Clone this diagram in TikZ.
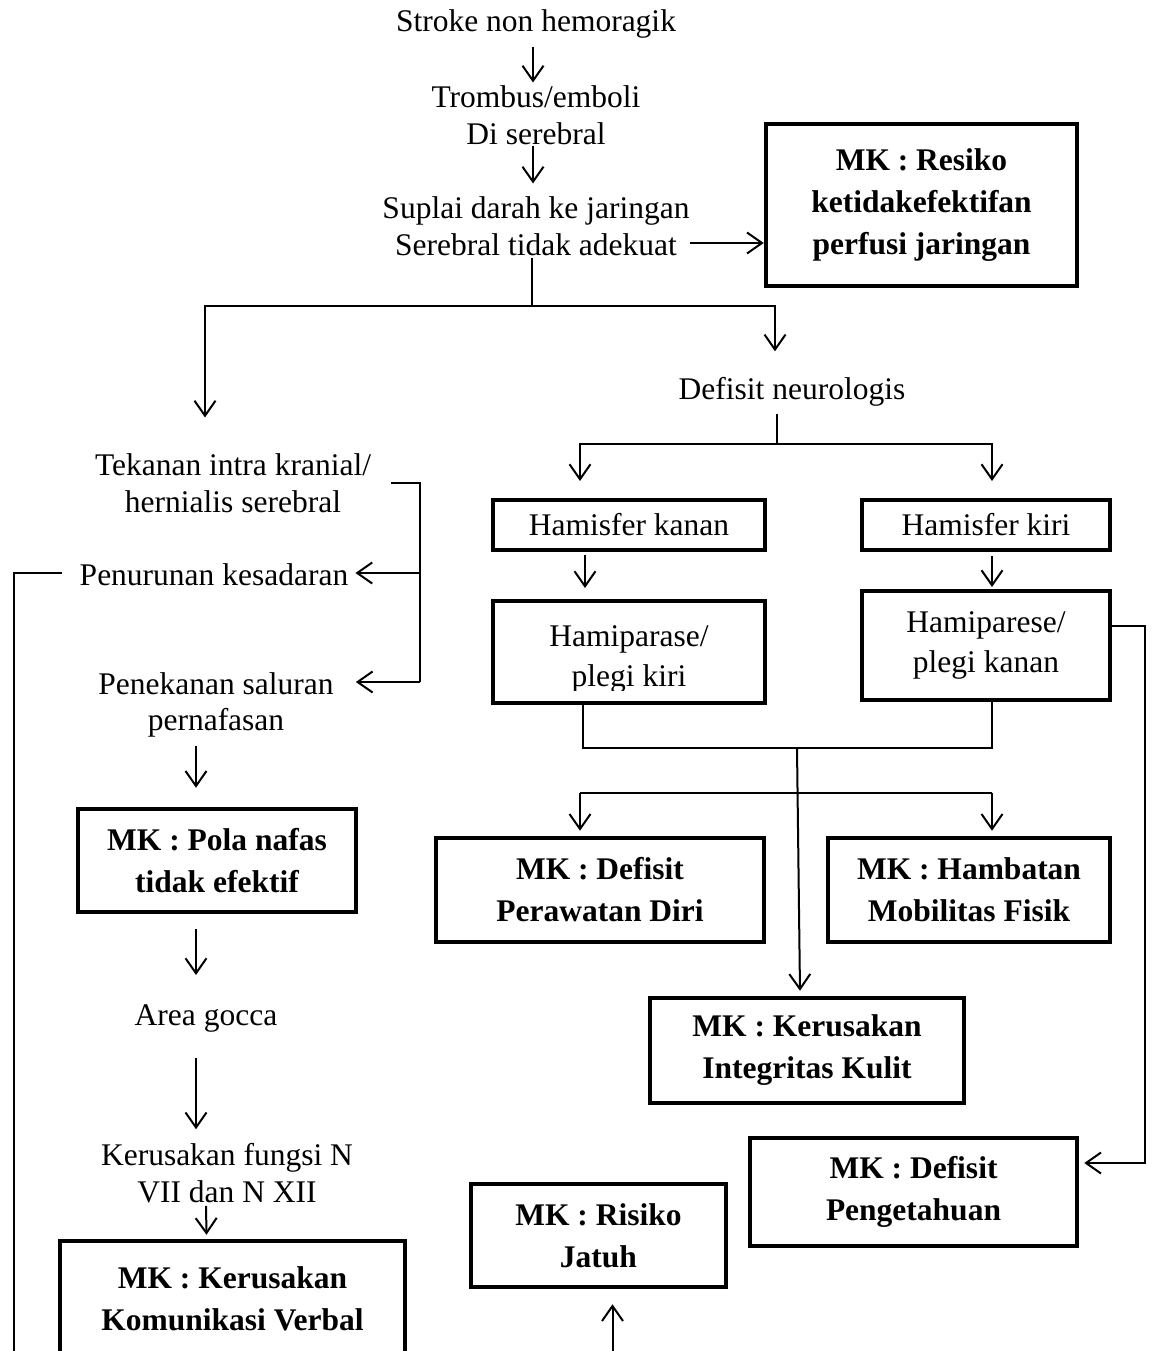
\documentclass[tikz,border=0pt]{standalone}
\usepackage{fontspec}
\setmainfont{Liberation Serif}
\usetikzlibrary{arrows.meta,calc}
\begin{document}
\begin{tikzpicture}[x=1pt,y=-1pt,
  ln/.style={line width=2pt},
  arr/.style={line width=2pt,-{Straight Barb[length=15pt,width=21pt,line width=2pt]}},
  txt/.style={font=\fontsize{31.5}{36.5}\selectfont, align=center, inner sep=0pt},
  mk/.style={draw, line width=4.5pt, font=\bfseries\fontsize{31.5}{42}\selectfont, align=center, inner sep=0pt},
  hb/.style={draw, line width=4pt, font=\fontsize{31.5}{40}\selectfont, align=center, inner sep=0pt},
]
\useasboundingbox (0,0) rectangle (1152,1351);
\clip (0,0) rectangle (1152,1351);

% top chain
\node[txt] (stroke) at (536,24) {Stroke non hemoragik};
\node[txt] (tromb) at (536,115) {Trombus/emboli\\Di serebral};
\node[txt] (suplai) at (536,226) {Suplai darah ke jaringan\\Serebral tidak adekuat};
\node[mk, minimum width=311pt, minimum height=162pt] (resiko) at (921.5,205) {MK : Resiko\\ketidakefektifan\\perfusi jaringan};

% right side
\node[txt] (defisit) at (792,392) {Defisit neurologis};
\node[hb, minimum width=272pt, minimum height=50pt] (hkanan) at (629,525) {Hamisfer kanan};
\node[hb, minimum width=248pt, minimum height=50pt] (hkiri) at (986,525) {Hamisfer kiri};
\node[hb, minimum width=272pt, minimum height=102pt] (hpkiri) at (629,652) {};
\begin{scope}
  \clip (hpkiri.north west) rectangle ([yshift=15pt]hpkiri.south east);
  \node[txt, font=\fontsize{31.5}{40}\selectfont] (hpkiritxt) at (629,659) {Hamiparase/\\plegi kiri};
\end{scope}
\node[hb, minimum width=248pt, minimum height=109pt] (hpkanan) at (986,645.5) {Hamiparese/\\plegi kanan};
\node[mk, minimum width=328pt, minimum height=104pt] (perawatan) at (600,890) {MK : Defisit\\Perawatan Diri};
\node[mk, minimum width=282pt, minimum height=104pt] (mobilitas) at (969,890) {MK : Hambatan\\Mobilitas Fisik};
\node[mk, minimum width=314pt, minimum height=105pt] (kulit) at (807,1050.5) {MK : Kerusakan\\Integritas Kulit};
\node[mk, minimum width=327pt, minimum height=108pt] (pengetahuan) at (913.5,1192) {MK : Defisit\\Pengetahuan};
\node[mk, minimum width=255pt, minimum height=103pt] (jatuh) at (598.5,1235.5) {MK : Risiko\\Jatuh};

% left side
\node[txt] (tekanan) at (233,483) {Tekanan intra kranial/\\hernialis serebral};
\node[txt] (penurunan) at (214,575) {Penurunan kesadaran};
\node[txt] (penekanan) at (216,705) {Penekanan saluran\\pernafasan};
\node[mk, minimum width=278pt, minimum height=103pt] (pola) at (217,860.5) {MK : Pola nafas\\tidak efektif};
\node[txt] (area) at (206,1018) {Area gocca};
\node[txt] (fungsi) at (227,1173) {Kerusakan fungsi N\\VII dan N XII};
\node[mk, minimum width=345pt, minimum height=116pt] (verbal) at (232.5,1299) {MK : Kerusakan\\Komunikasi Verbal};

% connectors: top chain
\draw[arr] ($(stroke.south)+(-3,8)$) -- ($(tromb.north)+(-3,-3)$);
\draw[arr] ($(tromb.south)+(-3,1)$) -- ($(suplai.north)+(-3,-13)$);
\draw[arr] ($(suplai.east)+(0,17)$) coordinate (s1) -- (s1 -| resiko.west);

% branch from suplai
\coordinate (b1) at ($(suplai.south)+(-4,50)$);
\draw[ln] ($(suplai.south)+(-4,2)$) -- (b1);
\draw[arr] (b1) -| ($(tekanan.north)+(-28,-36)$);
\draw[arr] (b1) -| ($(defisit.north)+(-17,-26)$);

% branch from defisit
\coordinate (b2) at ($(defisit.south)+(-15,37)$);
\draw[ln] ($(defisit.south)+(-15,7)$) -- (b2);
\draw[arr] (b2) -| ($(hkanan.north)+(-49,-17)$);
\draw[arr] (b2) -| ($(hkiri.north)+(6,-17)$);

\draw[arr] ($(hkanan.south)+(-44,3)$) -- ($(hpkiri.north)+(-44,-11)$);
\draw[arr] ($(hkiri.south)+(6,4)$) -- ($(hpkanan.north)+(6,-2)$);

% merge of hemiparesis boxes
\draw[ln] ($(hpkiri.south)+(-46,0)$) |- ($(hpkanan.south)+(6,46)$) -- ($(hpkanan.south)+(6,0)$);
\draw[arr] ($(hpkiri.south)+(168,43)$) -- ($(kulit.north)+(-7,-5)$);
\draw[arr] ($(perawatan.north)+(-20,-43)$) coordinate (c1) -- ($(perawatan.north)+(-20,-5)$);
\draw[arr] ($(mobilitas.north)+(23,-43)$) coordinate (c2) -- ($(mobilitas.north)+(23,-5)$);
\draw[ln] (c1) -- (c2);

% right long connector
\draw[arr] ($(hpkanan.east)+(0,-20)$) -- ++(33,0) |- ($(pengetahuan.east)+(5,-29)$);

% left bracket
\coordinate (p1) at ($(penurunan.east)+(7,-2)$);
\coordinate (p2) at ($(penekanan.east)+(22,-23)$);
\draw[ln] ($(tekanan.east)+(20,0)$) -- ++(29,0) coordinate (t1) -- (t1 |- p2);
\draw[arr] (t1 |- p1) -- (p1);
\draw[arr] (t1 |- p2) -- (p2);

% left long line
\draw[ln] ($(penurunan.west)+(-18,-2)$) -- ++(-48,0) -- ++(0,800);

% left chain
\draw[arr] ($(penekanan.south)+(-20,8)$) -- ($(pola.north)+(-21,-19)$);
\draw[arr] ($(pola.south)+(-21,15)$) -- ($(area.north)+(-10,-29)$);
\draw[arr] ($(area.south)+(-10,26)$) -- ($(fungsi.north)+(-31,-14)$);
\draw[arr] ($(fungsi.south)+(-21,3)$) -- ($(verbal.north)+(-26,-4)$);

% arrow up to Risiko Jatuh
\draw[arr] ($(jatuh.south)+(14,70)$) -- ($(jatuh.south)+(14,15)$);
\end{tikzpicture}
\end{document}
